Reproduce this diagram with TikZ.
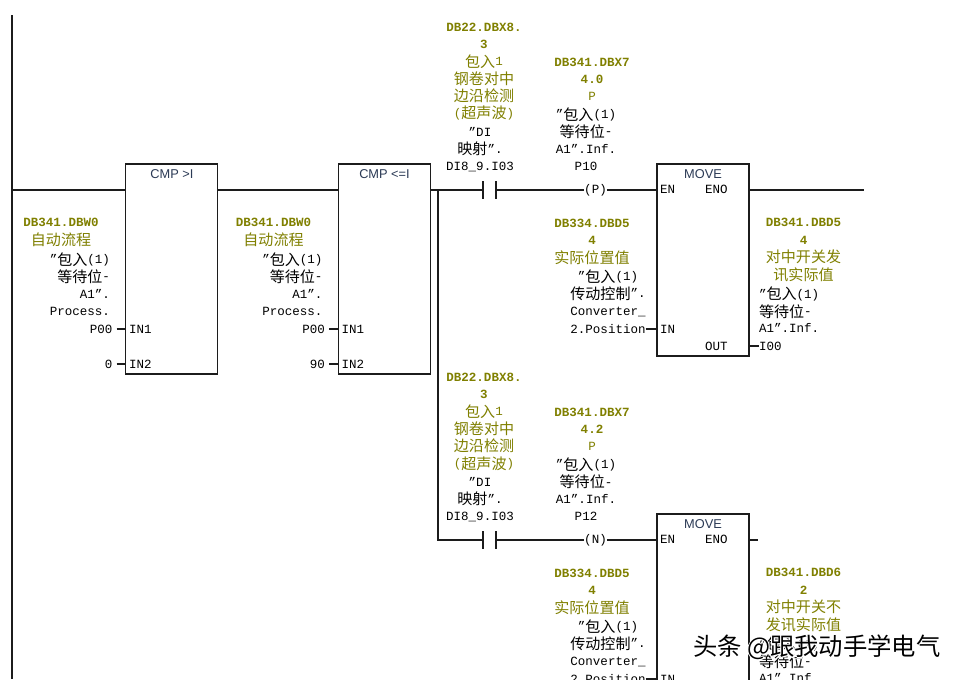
\documentclass[tikz,border=0pt]{standalone}
\usepackage{xcolor}
\usepackage{fontspec}
\setmainfont{Liberation Mono}
\newfontfamily\zhfont{Noto Sans CJK SC}
\newfontfamily\zhhalo[FakeBold=8]{Noto Sans CJK SC}
\newfontfamily\titlefont{Liberation Sans}
\usetikzlibrary{positioning}
\definecolor{olivec}{HTML}{808000}
\definecolor{titlec}{HTML}{2B3A55}
\definecolor{linec}{HTML}{1C1C1C}
\newcommand{\zh}[1]{\raisebox{-1pt}{\zhfont\fontsize{10.7pt}{12.3pt}\selectfont #1}}

\begin{document}
\begin{tikzpicture}[x=0.025cm,y=-0.025cm,
  every node/.style={inner sep=0pt,outer sep=0pt,font=\fontsize{8.9pt}{12.3pt}\selectfont},
  wire/.style={draw=linec,line width=0.75pt},
  fblock/.style={draw=linec,line width=0.8pt,fill=white,minimum width=2.3cm},
  blocktitle/.style={font=\titlefont\fontsize{9.1pt}{11pt}\selectfont,text=titlec},
  addr/.style={text=olivec,align=center},
  sym/.style={text=black,align=center},
  symr/.style={text=black,align=right,anchor=east},
  syml/.style={text=black,align=left,anchor=west},
  pinval/.style={anchor=east,inner xsep=3pt},
  pin/.style={anchor=west},
  contact/.style={minimum width=0.325cm,minimum height=0.44cm},
]
\clip (0,0) rectangle (960,679);
\fill[white] (0,0) rectangle (960,679);

% rail and block outlines
\coordinate (railtop) at (12,15);
\coordinate (railend) at (12,679);
\coordinate (rungstart) at (11,190);
\coordinate (branch) at (438,190);
\coordinate (branchb) at (438,540);
\coordinate (rungend) at (864,190);
\coordinate (rungendb) at (758,540);
\draw[wire] (railtop) -- (railend);

\node[fblock,minimum height=5.25cm] (cmpa) at (171.8,269) {};
\node[fblock,minimum height=5.25cm] (cmpb) at (384.3,269) {};
\node[fblock,minimum height=4.8cm] (movea) at (703,260) {};
\node[fblock,minimum height=4.8cm] (moveb) at (703,610) {};

\node[blocktitle] (cmpatitle) at (172,174) {CMP >I};
\node[blocktitle] (cmpbtitle) at (384.5,174) {CMP <=I};
\node[blocktitle] (moveatitle) at (703,174) {MOVE};
\node[blocktitle] (movebtitle) at (703,524) {MOVE};

% contacts and coils
\node[contact] (conta) at (489.5,190) {};
\node[contact] (contb) at (489.5,540) {};
\node[minimum height=0.44cm] (coila) at (595.5,190) {(P)};
\node[minimum height=0.44cm] (coilb) at (595.5,540) {(N)};
\draw[wire] (conta.north west) -- (conta.south west);
\draw[wire] (conta.north east) -- (conta.south east);
\draw[wire] (contb.north west) -- (contb.south west);
\draw[wire] (contb.north east) -- (contb.south east);

% rungs
\draw[wire] (rungstart) -- (cmpa.west |- rungstart);
\draw[wire] (cmpa.east |- rungstart) -- (cmpb.west |- rungstart);
\draw[wire] (cmpb.east |- rungstart) -- (branch) -- (conta.west);
\draw[wire] (branch) -- (branchb) -- (contb.west);
\draw[wire] (conta.east) -- (coila.west);
\draw[wire] (contb.east) -- (coilb.west);
\draw[wire] (coila.east) -- (movea.west |- coila);
\draw[wire] (coilb.east) -- (moveb.west |- coilb);
\draw[wire] (movea.east |- rungend) -- (rungend);
\draw[wire] (moveb.east |- rungendb) -- (rungendb);

% first compare
\node[addr] (cmpaaddr) at (61,232.5) {\textbf{DB341.DBW0}\\\zh{自动流程}};
\node[symr] (cmpasym) at (110,284) {"\zh{包入}(1)\\\zh{等待位}-\\A1".\\Process.};
\node[pinval] (cmpaval) at (116.5,329) {P00};
\node[pinval] (cmpazero) at (116.5,364) {0};
\node[pin] (cmpain) at (129,329) {IN1};
\node[pin] (cmpainb) at (129,364) {IN2};
\draw[wire] (cmpaval.east) -- (cmpa.west |- cmpaval);
\draw[wire] (cmpazero.east) -- (cmpa.west |- cmpazero);

% second compare
\node[addr] (cmpbaddr) at (273.5,232.5) {\textbf{DB341.DBW0}\\\zh{自动流程}};
\node[symr] (cmpbsym) at (322.5,284) {"\zh{包入}(1)\\\zh{等待位}-\\A1".\\Process.};
\node[pinval] (cmpbval) at (329,329) {P00};
\node[pinval] (cmpbninety) at (329,364) {90};
\node[pin] (cmpbin) at (341.5,329) {IN1};
\node[pin] (cmpbinb) at (341.5,364) {IN2};
\draw[wire] (cmpbval.east) -- (cmpb.west |- cmpbval);
\draw[wire] (cmpbninety.east) -- (cmpb.west |- cmpbninety);

% upper branch
\node[addr] (contaaddr) at (484,71.5) {\textbf{DB22.DBX8.}\\\textbf{3}\\\zh{包入}1\\\zh{钢卷对中}\\\zh{边沿检测}\\(\zh{超声波})};
\node[sym] (contasym) at (480,149.5) {"DI\\\zh{映射}".\\DI8\_9.I03};
\node[addr] (coilaaddr) at (592,79.5) {\textbf{DB341.DBX7}\\\textbf{4.0}\\P};
\node[sym] (coilasym) at (586,139) {"\zh{包入}(1)\\\zh{等待位}-\\A1".Inf.\\P10};
\node[pin] (moveaen) at (660,189) {EN};
\node[pin] (moveaeno) at (705,189) {ENO};
\node[pin] (moveain) at (660,329) {IN};
\node[pin] (moveaout) at (705,346) {OUT};
\node[addr] (moveasrc) at (592,241.5) {\textbf{DB334.DBD5}\\\textbf{4}\\\zh{实际位置值}};
\node[sym] (moveasym) at (608,293) {"\zh{包入}(1)\\\zh{传动控制}".\\Converter\_};
\node (moveaval) at (608,329) {2.Position};
\node[addr] (moveadst) at (803.5,250) {\textbf{DB341.DBD5}\\\textbf{4}\\\zh{对中开关发}\\\zh{讯实际值}};
\node[syml] (moveasymb) at (759,310) {"\zh{包入}(1)\\\zh{等待位}-\\A1".Inf.};
\node[pin] (moveares) at (759,346) {I00};
\draw[wire] (moveaval.east) -- (movea.west |- moveaval);
\draw[wire] (movea.east |- moveares) -- (moveares.west);

% lower branch
\node[addr] (contbaddr) at (484,421.5) {\textbf{DB22.DBX8.}\\\textbf{3}\\\zh{包入}1\\\zh{钢卷对中}\\\zh{边沿检测}\\(\zh{超声波})};
\node[sym] (contbsym) at (480,499.5) {"DI\\\zh{映射}".\\DI8\_9.I03};
\node[addr] (coilbaddr) at (592,429.5) {\textbf{DB341.DBX7}\\\textbf{4.2}\\P};
\node[sym] (coilbsym) at (586,489) {"\zh{包入}(1)\\\zh{等待位}-\\A1".Inf.\\P12};
\node[pin] (movebnen) at (660,539) {EN};
\node[pin] (movebeno) at (705,539) {ENO};
\node[pin] (movebin) at (660,679) {IN};
\node[addr] (movebsrc) at (592,591.5) {\textbf{DB334.DBD5}\\\textbf{4}\\\zh{实际位置值}};
\node[sym] (movebsym) at (608,643) {"\zh{包入}(1)\\\zh{传动控制}".\\Converter\_};
\node (movebval) at (608,679) {2.Position};
\node[addr] (movebdst) at (803.5,600) {\textbf{DB341.DBD6}\\\textbf{2}\\\zh{对中开关不}\\\zh{发讯实际值}};
\node[syml] (movebsymb) at (759,660) {"\zh{包入}(1)\\\zh{等待位}-\\A1".Inf.};
\draw[wire] (movebval.east) -- (moveb.west |- movebval);

% watermark
\node[anchor=west,text=white,font=\zhhalo\fontsize{17.3pt}{20pt}\selectfont] (markhalo) at (693,647) {头条 @跟我动手学电气};
\node[anchor=west,text=black,font=\zhfont\fontsize{17.3pt}{20pt}\selectfont] (mark) at (693,647) {头条 @跟我动手学电气};
\end{tikzpicture}
\end{document}
